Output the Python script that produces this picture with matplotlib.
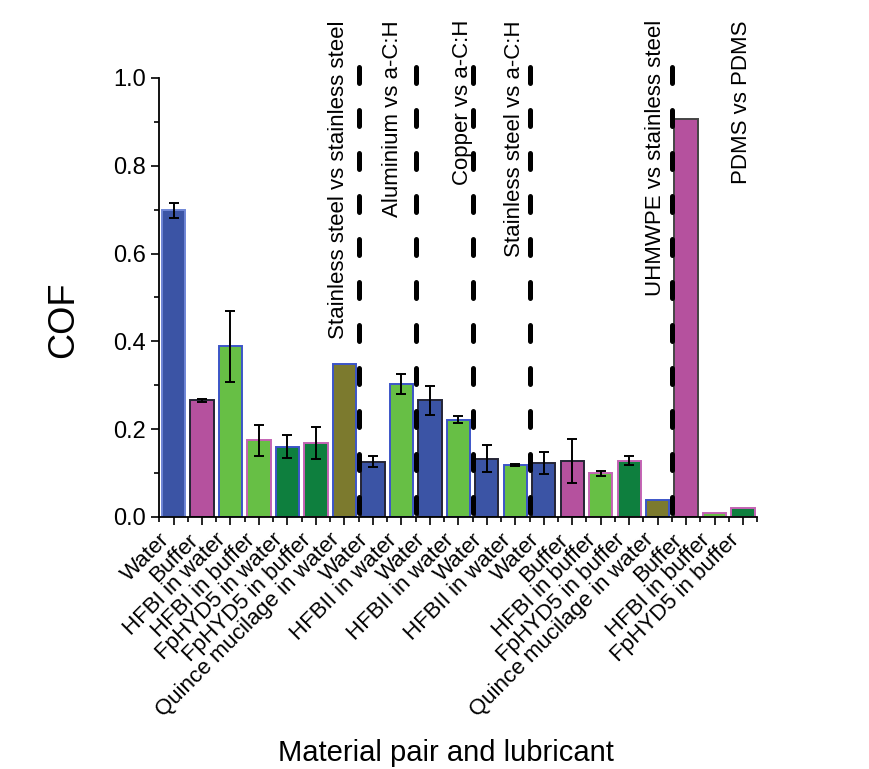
import numpy as np
import matplotlib
matplotlib.use("Agg")
import matplotlib.pyplot as plt
from matplotlib.ticker import MultipleLocator

plt.rcParams['font.family'] = ['Liberation Sans', 'DejaVu Sans']

# data
labels = ["Water", "Buffer", "HFBI in water", "HFBI in buffer", "FpHYD5 in water",
          "FpHYD5 in buffer", "Quince mucilage in water",
          "Water", "HFBII in water",
          "Water", "HFBII in water",
          "Water", "HFBII in water",
          "Water", "Buffer", "HFBI in buffer", "FpHYD5 in buffer", "Quince mucilage in water",
          "Buffer", "HFBI in buffer", "FpHYD5 in buffer"]
cof = [0.699, 0.266, 0.389, 0.175, 0.160, 0.168, 0.349,
       0.126, 0.303,
       0.266, 0.222,
       0.133, 0.118,
       0.123, 0.128, 0.0995, 0.128, 0.039,
       0.907, 0.008, 0.020]
cof_err = [0.017, 0.003, 0.081, 0.035, 0.026, 0.036, 0.0,
           0.0125, 0.022,
           0.033, 0.009,
           0.030, 0.002,
           0.025, 0.050, 0.005, 0.010, 0.0,
           0.0, 0.0, 0.0]

pairs = ["Stainless steel vs stainless steel", "Aluminium vs a-C:H", "Copper vs a-C:H",
         "Stainless steel vs a-C:H", "UHMWPE vs stainless steel", "PDMS vs PDMS"]
group_sizes = [7, 2, 2, 2, 5, 3]

# styles
fill = {"Water": "#3b54a5", "Buffer": "#b5519e",
        "HFBI in water": "#67bf45", "HFBI in buffer": "#67bf45", "HFBII in water": "#67bf45",
        "FpHYD5 in water": "#0e7f3e", "FpHYD5 in buffer": "#0e7f3e",
        "Quince mucilage in water": "#7c7a2e"}
blue_e, mag_e, dark_e = "#3c55c8", "#c463b4", "#252535"
edges = ["#6f86d6", dark_e, blue_e, mag_e, blue_e, mag_e, blue_e,
         dark_e, blue_e, dark_e, blue_e, dark_e, blue_e,
         dark_e, dark_e, mag_e, mag_e, blue_e,
         "#444444", mag_e, mag_e]
text_x = [5.78, 7.69, 10.15, 11.98, 16.94, 19.96]

fig = plt.figure(figsize=(8.7, 7.69), dpi=100)
ax = fig.add_axes([0.1831, 0.3277, 0.6874, 0.5709])

x = np.arange(len(labels))
ax.bar(x, cof, width=0.82, color=[fill[l] for l in labels],
       edgecolor=edges, linewidth=1.4, zorder=2)

err = np.array(cof_err)
has = err > 0
ax.errorbar(x[has], np.array(cof)[has], yerr=err[has], fmt='none',
            ecolor='black', elinewidth=1.4, capsize=3.5, capthick=1.4, zorder=3)

# dividers between material pairs
bounds = np.cumsum(group_sizes)[:-1] - 0.5
for b in bounds:
    ax.plot([b, b], [1.025, 0], color='black', lw=3.6,
            linestyle=(0, (3.2, 5.4)), dash_capstyle='round',
            clip_on=False, zorder=4)

for tx, name in zip(text_x, pairs):
    ax.text(tx, 1.132, name, rotation=90, ha='center', va='top', fontsize=16)

ax.set_xlim(-0.5, 20.5)
ax.set_ylim(0, 1.0)
ax.yaxis.set_major_locator(MultipleLocator(0.2))
ax.yaxis.set_minor_locator(MultipleLocator(0.1))
ax.set_yticklabels([f"{v:.1f}" for v in ax.get_yticks()])
ax.set_xticks(x)
ax.set_xticks(np.r_[x - 0.5, 20.5], minor=True)
ax.set_xticklabels(labels, rotation=45, ha='right', fontsize=16)
ax.tick_params(axis='y', which='major', labelsize=17, length=6, width=1.2, direction='out')
ax.tick_params(axis='y', which='minor', length=3.5, width=1.2, direction='out')
ax.tick_params(axis='x', which='major', length=6, width=1.2, direction='out', pad=3)
ax.tick_params(axis='x', which='minor', length=3.5, width=1.2, direction='out')

for s in ['top', 'right']:
    ax.spines[s].set_visible(False)
for s in ['left', 'bottom']:
    ax.spines[s].set_linewidth(1.3)

ax.set_ylabel("COF", fontsize=26)
ax.yaxis.set_label_coords(-0.13, 0.449)
fig.text(0.513, 0.0104, "Material pair and lubricant", fontsize=21, ha='center', va='baseline')

fig.savefig("out.png", dpi=100)
